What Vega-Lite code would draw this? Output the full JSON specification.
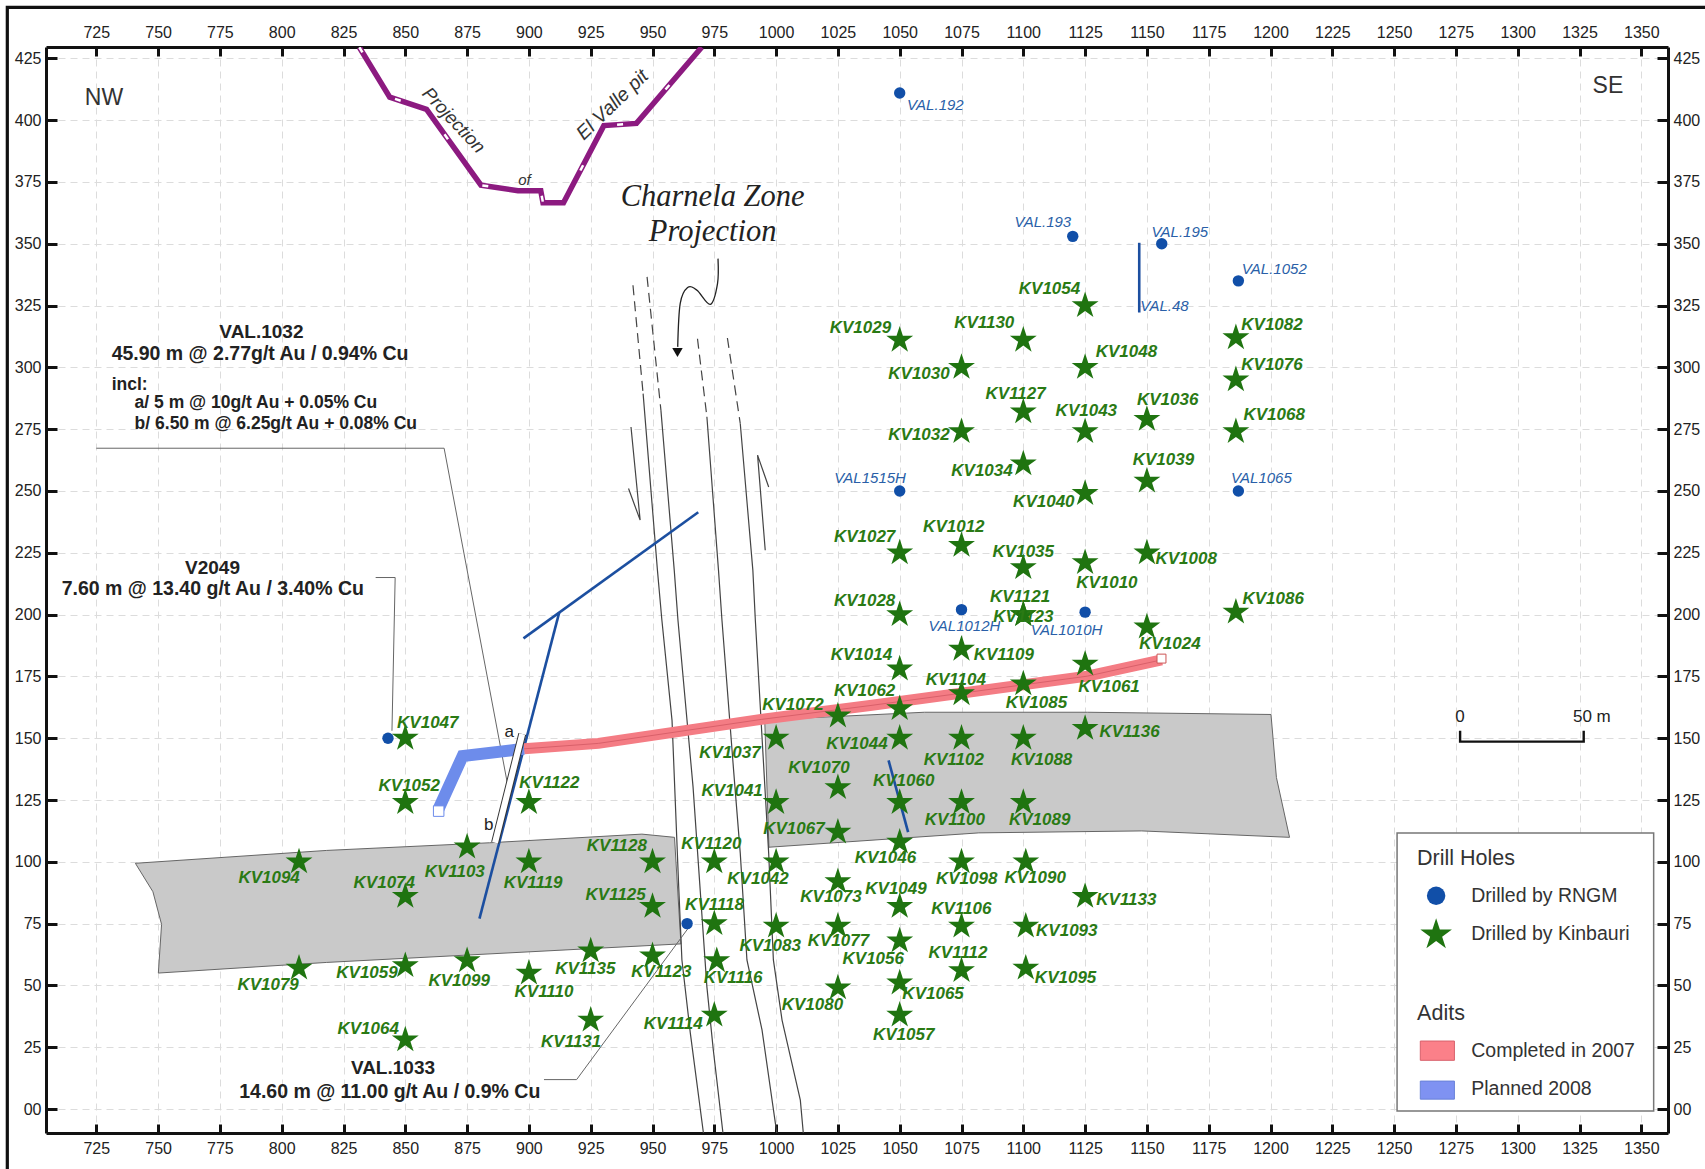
{
"$schema":"https://vega.github.io/schema/vega-lite/v6.json",
"autosize":"none","width":1622,"height":1086,
"padding":{"left":46,"top":47,"right":37,"bottom":36},
"background":"white",
"config":{"view":{"stroke":null},"font":"Liberation Sans"},
"datasets":{
"stars":[
{"n":"KV1047","x":850,"y":150,"lx":859.1,"ly":156},{"n":"KV1052","x":850,"y":124,"lx":851.6,"ly":130.6},{"n":"KV1122","x":900,"y":124,"lx":908.3,"ly":131.9},{"n":"KV1094","x":807,"y":100,"lx":794.9,"ly":93.6},{"n":"KV1074","x":850,"y":86,"lx":841.5,"ly":91.4},{"n":"KV1103","x":875,"y":106,"lx":870,"ly":95.8},{"n":"KV1119","x":900,"y":100,"lx":901.7,"ly":91.4},{"n":"KV1128","x":950,"y":100,"lx":935.6,"ly":106.4},{"n":"KV1125","x":950,"y":82,"lx":935.1,"ly":86.6},{"n":"KV1079","x":807,"y":57,"lx":794.5,"ly":50.1},{"n":"KV1059","x":850,"y":58,"lx":834.5,"ly":55},{"n":"KV1099","x":875,"y":60,"lx":871.8,"ly":51.9},{"n":"KV1110","x":900,"y":55,"lx":906.1,"ly":47.5},{"n":"KV1135","x":925,"y":64,"lx":922.8,"ly":56.7},{"n":"KV1123","x":950,"y":62,"lx":953.6,"ly":55.4},{"n":"KV1064","x":850,"y":28,"lx":835,"ly":32.5},{"n":"KV1131","x":925,"y":36,"lx":917.1,"ly":27.3},{"n":"KV1114","x":975,"y":38,"lx":958.4,"ly":34.3},{"n":"KV1116","x":976,"y":60,"lx":982.6,"ly":52.8},{"n":"KV1118","x":975,"y":75,"lx":975.1,"ly":82.6},{"n":"KV1120","x":975,"y":100,"lx":973.8,"ly":107.3},{"n":"KV1042","x":1000,"y":100,"lx":992.7,"ly":93.2},{"n":"KV1083","x":1000,"y":74,"lx":997.6,"ly":65.9},{"n":"KV1080","x":1025,"y":49,"lx":1014.7,"ly":42.2},{"n":"KV1077","x":1025,"y":74,"lx":1025.2,"ly":68.1},{"n":"KV1073","x":1025,"y":92,"lx":1022.2,"ly":85.7},{"n":"KV1046","x":1050,"y":108,"lx":1044.2,"ly":101.5},{"n":"KV1049","x":1050,"y":82,"lx":1048.5,"ly":88.8},{"n":"KV1056","x":1050,"y":68,"lx":1039.3,"ly":60.7},{"n":"KV1065","x":1050,"y":51,"lx":1063.5,"ly":46.6},{"n":"KV1057","x":1050,"y":38,"lx":1051.6,"ly":29.9},{"n":"KV1106","x":1075,"y":74,"lx":1074.9,"ly":80.9},{"n":"KV1112","x":1075,"y":56,"lx":1073.6,"ly":63.3},{"n":"KV1098","x":1075,"y":100,"lx":1077.1,"ly":93.2},{"n":"KV1090","x":1101,"y":100,"lx":1104.8,"ly":93.6},{"n":"KV1093","x":1101,"y":74,"lx":1117.6,"ly":72.1},{"n":"KV1095","x":1101,"y":57,"lx":1117.1,"ly":53.2},{"n":"KV1133","x":1125,"y":86,"lx":1141.7,"ly":84.4},{"n":"KV1067","x":1025,"y":112,"lx":1007.2,"ly":113.4},{"n":"KV1041","x":1000,"y":124,"lx":982.2,"ly":128.8},{"n":"KV1037","x":1000,"y":150,"lx":981.3,"ly":144.2},{"n":"KV1072","x":1025,"y":159,"lx":1006.8,"ly":163.5},{"n":"KV1062","x":1050,"y":162,"lx":1035.8,"ly":169.2},{"n":"KV1044","x":1050,"y":150,"lx":1032.7,"ly":147.7},{"n":"KV1070","x":1025,"y":130,"lx":1017.3,"ly":138},{"n":"KV1060","x":1050,"y":124,"lx":1051.6,"ly":132.8},{"n":"KV1100","x":1075,"y":124,"lx":1072.3,"ly":116.9},{"n":"KV1102","x":1075,"y":150,"lx":1071.9,"ly":141.1},{"n":"KV1104","x":1075,"y":168,"lx":1072.7,"ly":173.6},{"n":"KV1085","x":1100,"y":172,"lx":1105.3,"ly":164.4},{"n":"KV1088","x":1100,"y":150,"lx":1107.4,"ly":141.1},{"n":"KV1089","x":1100,"y":124,"lx":1106.6,"ly":116.9},{"n":"KV1136","x":1125,"y":154,"lx":1143,"ly":152.5},{"n":"KV1061","x":1125,"y":180,"lx":1134.7,"ly":170.6},{"n":"KV1024","x":1150,"y":195,"lx":1159.3,"ly":188.1},{"n":"KV1109","x":1075,"y":186,"lx":1092.1,"ly":183.8},{"n":"KV1014","x":1050,"y":178,"lx":1034.5,"ly":183.8},{"n":"KV1028","x":1050,"y":200,"lx":1035.8,"ly":205.3},{"n":"KV1027","x":1050,"y":225,"lx":1035.8,"ly":231.2},{"n":"KV1012","x":1075,"y":228,"lx":1071.9,"ly":235.6},{"n":"KV1035","x":1100,"y":219,"lx":1100,"ly":225.5},{"n":"KV1121","x":1100,"y":200,"lx":1098.7,"ly":207},{"n":"KV1123","x":1100,"y":200,"lx":1100,"ly":199},{"n":"KV1010","x":1125,"y":221,"lx":1133.8,"ly":212.8},{"n":"KV1008","x":1150,"y":225,"lx":1165.9,"ly":222.4},{"n":"KV1086","x":1186,"y":201,"lx":1201.1,"ly":206.2},{"n":"KV1040","x":1125,"y":249,"lx":1108.3,"ly":245.7},{"n":"KV1034","x":1100,"y":261,"lx":1083.3,"ly":258},{"n":"KV1039","x":1150,"y":254,"lx":1156.7,"ly":262.4},{"n":"KV1032","x":1075,"y":274,"lx":1057.8,"ly":272.5},{"n":"KV1043","x":1125,"y":274,"lx":1125.5,"ly":282.2},{"n":"KV1036","x":1150,"y":279,"lx":1158.4,"ly":287},{"n":"KV1068","x":1186,"y":274,"lx":1201.5,"ly":280.9},{"n":"KV1127","x":1100,"y":282,"lx":1096.9,"ly":289.3},{"n":"KV1030","x":1075,"y":300,"lx":1057.8,"ly":297.2},{"n":"KV1048","x":1125,"y":300,"lx":1141.7,"ly":306.4},{"n":"KV1076","x":1186,"y":295,"lx":1200.6,"ly":301.1},{"n":"KV1029","x":1050,"y":311,"lx":1034.1,"ly":316.1},{"n":"KV1130","x":1100,"y":311,"lx":1084.2,"ly":317.8},{"n":"KV1082","x":1186,"y":312,"lx":1200.6,"ly":317},{"n":"KV1054","x":1125,"y":325,"lx":1110.6,"ly":331.9}
],
"holes":[
{"n":"VAL.192","x":1050,"y":411,"lx":1064.4,"ly":406.2},{"n":"VAL.193","x":1120,"y":353,"lx":1107.9,"ly":358.7},{"n":"VAL.195","x":1156,"y":350,"lx":1163.3,"ly":354.8},{"n":"VAL.1052","x":1187,"y":335,"lx":1201.5,"ly":339.8},{"n":"VAL.48","lx":1157.1,"ly":324.9},{"n":"VAL1515H","x":1050,"y":250,"lx":1038,"ly":255.4},{"n":"VAL1065","x":1187,"y":250,"lx":1196.3,"ly":255.4},{"n":"VAL1012H","x":1075,"y":202,"lx":1076.2,"ly":195.2},{"n":"VAL1010H","x":1125,"y":201,"lx":1117.5,"ly":193.9},{"x":843,"y":150},{"x":964,"y":75}
],
"zones":[
{"z":"left","i":0,"x":740.8,"y":99.4},{"z":"left","i":1,"x":818.2,"y":104.6},{"z":"left","i":2,"x":884.1,"y":107.7},{"z":"left","i":3,"x":945.7,"y":111.2},{"z":"left","i":4,"x":958.9,"y":109.9},{"z":"left","i":5,"x":961.5,"y":66.8},{"z":"left","i":6,"x":818.2,"y":59.3},{"z":"left","i":7,"x":750.1,"y":55},{"z":"left","i":8,"x":751.4,"y":74.7},{"z":"left","i":9,"x":747.9,"y":87.9},{"z":"left","i":10,"x":740.8,"y":99.4},
{"z":"right","i":0,"x":995.4,"y":157.4},{"z":"right","i":1,"x":1060,"y":160.5},{"z":"right","i":2,"x":1125.9,"y":160.5},{"z":"right","i":3,"x":1200.2,"y":159.6},{"z":"right","i":4,"x":1202.4,"y":134.1},{"z":"right","i":5,"x":1207.7,"y":109.9},{"z":"right","i":6,"x":1147.9,"y":112.5},{"z":"right","i":7,"x":1082,"y":111.7},{"z":"right","i":8,"x":997.1,"y":105.9},{"z":"right","i":9,"x":995.4,"y":157.4}
],
"pit":[
{"i":0,"x":831.4,"y":429.5},{"i":1,"x":843.7,"y":409.3},{"i":2,"x":858.6,"y":404.4},{"i":3,"x":880.6,"y":373.7},{"i":4,"x":895.6,"y":371.5},{"i":5,"x":904.8,"y":371.5},{"i":6,"x":905.7,"y":366.6},{"i":7,"x":914,"y":366.6},{"i":8,"x":930.3,"y":397.8},{"i":9,"x":943.5,"y":398.7},{"i":10,"x":969.9,"y":429.5}
],
"red":[
{"i":0,"x":898,"y":145.7},{"i":1,"x":928.1,"y":147.9},{"i":2,"x":994,"y":157.6},{"i":3,"x":1038,"y":163.2},{"i":4,"x":1125.9,"y":175.1},{"i":5,"x":1156,"y":181.7}
],
"blue":[
{"i":0,"x":863.5,"y":121.5},{"i":1,"x":873.2,"y":142.8},{"i":2,"x":898,"y":145.7}
],
"drills":[
{"s":"a","i":0,"x":880,"y":77},{"s":"a","i":1,"x":912.3,"y":201},
{"s":"b","i":0,"x":897.8,"y":190.4},{"s":"b","i":1,"x":968.5,"y":241.4},
{"s":"c","i":0,"x":1146.9,"y":350.4},{"s":"c","i":1,"x":1146.9,"y":322.2},
{"s":"d","i":0,"x":1045.5,"y":141},{"s":"d","i":1,"x":1053.4,"y":112}
],
"faults":[
{"s":"1","i":0,"x":946.2,"y":289.4},{"s":"1","i":1,"x":949.8,"y":245},{"s":"1","i":2,"x":952,"y":217.9},{"s":"1","i":3,"x":953.8,"y":197.7},{"s":"1","i":4,"x":957.9,"y":157.2},{"s":"1","i":5,"x":960.6,"y":89.9},{"s":"1","i":6,"x":961.9,"y":60.3},{"s":"1","i":7,"x":965.3,"y":30.7},{"s":"1","i":8,"x":970.6,"y":-9.7},
{"s":"2","i":0,"x":953.4,"y":282.7},{"s":"2","i":1,"x":958.8,"y":217.9},{"s":"2","i":2,"x":960.3,"y":197.7},{"s":"2","i":3,"x":966.4,"y":130.3},{"s":"2","i":4,"x":972,"y":49.4},{"s":"2","i":5,"x":974.6,"y":23.9},{"s":"2","i":6,"x":978.5,"y":-9.7},
{"s":"3","i":0,"x":972,"y":280},{"s":"3","i":1,"x":976.7,"y":217.9},{"s":"3","i":2,"x":978.1,"y":197.7},{"s":"3","i":3,"x":982.8,"y":137.1},{"s":"3","i":4,"x":985.5,"y":103.5},{"s":"3","i":5,"x":988.2,"y":60.3},{"s":"3","i":6,"x":994.3,"y":32},{"s":"3","i":7,"x":999.7,"y":-5.7},{"s":"3","i":8,"x":1000.3,"y":-9.7},
{"s":"4","i":0,"x":985.5,"y":277.3},{"s":"4","i":1,"x":990.6,"y":217.9},{"s":"4","i":2,"x":991.6,"y":197.7},{"s":"4","i":3,"x":994.3,"y":150.5},{"s":"4","i":4,"x":997,"y":103.4},{"s":"4","i":5,"x":998.9,"y":60.3},{"s":"4","i":6,"x":1002.4,"y":36},{"s":"4","i":7,"x":1009.8,"y":3.6},{"s":"4","i":8,"x":1011,"y":-9.7},
{"s":"L","i":0,"x":941.3,"y":275.9},{"s":"L","i":1,"x":945,"y":238.2},{"s":"L","i":2,"x":940.3,"y":251},
{"s":"R","i":0,"x":995.6,"y":226},{"s":"R","i":1,"x":992.5,"y":264.5},{"s":"R","i":2,"x":997,"y":251.6}
],
"faultsDashed":[
{"s":"1","i":0,"x":942.1,"y":333.2},{"s":"1","i":1,"x":946.2,"y":289.4},
{"s":"2","i":0,"x":947.8,"y":336.6},{"s":"2","i":1,"x":953.4,"y":282.7},
{"s":"3","i":0,"x":968.2,"y":311.6},{"s":"3","i":1,"x":972,"y":280},
{"s":"4","i":0,"x":980.3,"y":311.9},{"s":"4","i":1,"x":985.5,"y":277.3}
],
"curve":[
{"i":0,"x":976.5,"y":344},{"i":1,"x":976.3,"y":333.9},{"i":2,"x":973.4,"y":325.5},{"i":3,"x":968,"y":331.2},{"i":4,"x":964.2,"y":332.3},{"i":5,"x":961.2,"y":325.8},{"i":6,"x":960.2,"y":308.3}
],
"leaders":[
{"s":"v1032","i":0,"x":725,"y":267.3},{"s":"v1032","i":1,"x":865.7,"y":267.3},{"s":"v1032","i":2,"x":891.6,"y":130.1},
{"s":"v2049","i":0,"x":838,"y":215},{"s":"v2049","i":1,"x":845.9,"y":215},{"s":"v2049","i":2,"x":844.6,"y":153},
{"s":"v1033","i":0,"x":906.1,"y":11.9},{"s":"v1033","i":1,"x":919.3,"y":11.9},{"s":"v1033","i":2,"x":965,"y":73.9}
],
"frame":[{"i":0,"x":689,"y":-24.3},{"i":1,"x":689,"y":445.6},{"i":2,"x":1376,"y":445.6}],
"scalebar":[
{"i":0,"x":1276.7,"y":153},{"i":1,"x":1276.7,"y":148.6},{"i":2,"x":1326.7,"y":148.6},{"i":3,"x":1326.7,"y":153}
],
"ticksX":[{"x":725}]
},
"layer":[
{"data":{"name":"ticksX"},"mark":{"type":"rule","opacity":0},
 "encoding":{
 "x":{"field":"x","type":"quantitative","scale":{"domain":[704.65,1360.8],"nice":false,"zero":false},
  "axis":{"orient":"bottom","title":null,"values":[725,750,775,800,825,850,875,900,925,950,975,1000,1025,1050,1075,1100,1125,1150,1175,1200,1225,1250,1275,1300,1325,1350],"format":"d","grid":true,"gridColor":"#dcdcdc","gridDash":[7,5],"gridWidth":1,"domainColor":"#111","domainWidth":3,"tickColor":"#111","tickWidth":3,"tickSize":-9,"labelPadding":16,"labelFontSize":16,"labelColor":"#222","labelFont":"Liberation Sans","zindex":0}},
 "y":{"datum":0,"type":"quantitative","scale":{"domain":[-9.7,429.6],"nice":false,"zero":false},
  "axis":{"orient":"left","title":null,"values":[0,25,50,75,100,125,150,175,200,225,250,275,300,325,350,375,400,425],"labelExpr":"datum.value==0?'00':datum.label","grid":true,"gridColor":"#dcdcdc","gridDash":[7,5],"gridWidth":1,"domainColor":"#111","domainWidth":3,"tickColor":"#111","tickWidth":3,"tickSize":-11,"labelPadding":16,"labelFontSize":16,"labelColor":"#222","labelFont":"Liberation Sans","zindex":0}}
 }},
{"data":{"name":"ticksX"},"mark":{"type":"rule","opacity":0},
 "encoding":{
 "x":{"field":"x","type":"quantitative",
  "axis":{"orient":"top","title":null,"values":[725,750,775,800,825,850,875,900,925,950,975,1000,1025,1050,1075,1100,1125,1150,1175,1200,1225,1250,1275,1300,1325,1350],"format":"d","grid":false,"domainColor":"#111","domainWidth":3,"tickColor":"#111","tickWidth":3,"tickSize":-9,"labelPadding":16,"labelFontSize":16,"labelColor":"#222","labelFont":"Liberation Sans"}},
 "y":{"datum":0,"type":"quantitative",
  "axis":{"orient":"right","title":null,"values":[0,25,50,75,100,125,150,175,200,225,250,275,300,325,350,375,400,425],"labelExpr":"datum.value==0?'00':datum.label","grid":false,"domainColor":"#111","domainWidth":3,"tickColor":"#111","tickWidth":3,"tickSize":-11,"labelPadding":16,"labelFontSize":16,"labelColor":"#222","labelFont":"Liberation Sans"}}
 }},
{"data":{"name":"frame"},"mark":{"type":"line","stroke":"#111","strokeWidth":3.2},
 "encoding":{"x":{"field":"x","type":"quantitative","axis":null},"y":{"field":"y","type":"quantitative","axis":null},"order":{"field":"i"}}},
{"data":{"name":"zones"},"mark":{"type":"line","fill":"#c9c9c9","stroke":"#666","strokeWidth":1},
 "encoding":{"x":{"field":"x","type":"quantitative","axis":null},"y":{"field":"y","type":"quantitative","axis":null},"detail":{"field":"z"},"order":{"field":"i"}}},
{"data":{"name":"faults"},"mark":{"type":"line","stroke":"#444","strokeWidth":1.2,"clip":true},
 "encoding":{"x":{"field":"x","type":"quantitative","axis":null},"y":{"field":"y","type":"quantitative","axis":null},"detail":{"field":"s"},"order":{"field":"i"}}},
{"data":{"name":"faultsDashed"},"mark":{"type":"line","stroke":"#444","strokeWidth":1.2,"strokeDash":[10,6]},
 "encoding":{"x":{"field":"x","type":"quantitative","axis":null},"y":{"field":"y","type":"quantitative","axis":null},"detail":{"field":"s"},"order":{"field":"i"}}},
{"data":{"name":"leaders"},"mark":{"type":"line","stroke":"#666","strokeWidth":1},
 "encoding":{"x":{"field":"x","type":"quantitative","axis":null},"y":{"field":"y","type":"quantitative","axis":null},"detail":{"field":"s"},"order":{"field":"i"}}},
{"data":{"name":"curve"},"mark":{"type":"line","stroke":"#222","strokeWidth":1.3,"interpolate":"cardinal"},
 "encoding":{"x":{"field":"x","type":"quantitative","axis":null},"y":{"field":"y","type":"quantitative","axis":null},"order":{"field":"i"}}},
{"data":{"values":[{"x":960.1,"y":306}]},"mark":{"type":"point","shape":"triangle-down","filled":true,"color":"#111","size":110,"opacity":1},
 "encoding":{"x":{"field":"x","type":"quantitative","axis":null},"y":{"field":"y","type":"quantitative","axis":null}}},
{"data":{"name":"pit"},"mark":{"type":"line","stroke":"#8c1a80","strokeWidth":5.5,"clip":true},
 "encoding":{"x":{"field":"x","type":"quantitative","axis":null},"y":{"field":"y","type":"quantitative","axis":null},"order":{"field":"i"}}},
{"data":{"name":"pit"},"mark":{"type":"line","stroke":"#ffffff","strokeWidth":2.5,"strokeDash":[6,58],"clip":true},
 "encoding":{"x":{"field":"x","type":"quantitative","axis":null},"y":{"field":"y","type":"quantitative","axis":null},"order":{"field":"i"}}},
{"data":{"name":"drills"},"mark":{"type":"line","stroke":"#1c4fa0","strokeWidth":2.6},
 "encoding":{"x":{"field":"x","type":"quantitative","axis":null},"y":{"field":"y","type":"quantitative","axis":null},"detail":{"field":"s"},"order":{"field":"i"}}},
{"data":{"name":"red"},"mark":{"type":"line","stroke":"#f47c84","strokeWidth":11},
 "encoding":{"x":{"field":"x","type":"quantitative","axis":null},"y":{"field":"y","type":"quantitative","axis":null},"order":{"field":"i"}}},
{"data":{"name":"red"},"mark":{"type":"line","stroke":"#d9606a","strokeWidth":1},
 "encoding":{"x":{"field":"x","type":"quantitative","axis":null},"y":{"field":"y","type":"quantitative","axis":null},"order":{"field":"i"}}},
{"data":{"name":"blue"},"mark":{"type":"line","stroke":"#6d8ceb","strokeWidth":12,"strokeJoin":"miter"},
 "encoding":{"x":{"field":"x","type":"quantitative","axis":null},"y":{"field":"y","type":"quantitative","axis":null},"order":{"field":"i"}}},
{"data":{"values":[{"x":1155.9,"y":182.2}]},"mark":{"type":"point","shape":"square","filled":true,"fill":"white","stroke":"#c55","strokeWidth":1,"size":80,"opacity":1},
 "encoding":{"x":{"field":"x","type":"quantitative","axis":null},"y":{"field":"y","type":"quantitative","axis":null}}},
{"data":{"values":[{"x":863.5,"y":120.5}]},"mark":{"type":"point","shape":"square","filled":true,"fill":"white","stroke":"#6d8ceb","strokeWidth":1,"size":110,"opacity":1},
 "encoding":{"x":{"field":"x","type":"quantitative","axis":null},"y":{"field":"y","type":"quantitative","axis":null}}},
{"data":{"values":[{"i":0,"x":897.3,"y":151.7},{"i":1,"x":886.3,"y":107.7}]},"mark":{"type":"line","stroke":"#333","strokeWidth":8},
 "encoding":{"x":{"field":"x","type":"quantitative","axis":null},"y":{"field":"y","type":"quantitative","axis":null},"order":{"field":"i"}}},
{"data":{"values":[{"i":0,"x":897.3,"y":151.7},{"i":1,"x":886.3,"y":107.7}]},"mark":{"type":"line","stroke":"#fff","strokeWidth":6},
 "encoding":{"x":{"field":"x","type":"quantitative","axis":null},"y":{"field":"y","type":"quantitative","axis":null},"order":{"field":"i"}}},
{"data":{"name":"holes"},"transform":[{"filter":"isValid(datum.x)"}],"mark":{"type":"point","shape":"circle","filled":true,"color":"#114fa8","size":130,"opacity":1},
 "encoding":{"x":{"field":"x","type":"quantitative","axis":null},"y":{"field":"y","type":"quantitative","axis":null}}},
{"data":{"name":"stars"},"mark":{"type":"point","filled":true,"color":"#1f7410","opacity":1,"size":800,"shape":"M0,-1L0.2245,-0.309L0.951,-0.309L0.363,0.118L0.588,0.809L0,0.382L-0.588,0.809L-0.363,0.118L-0.951,-0.309L-0.2245,-0.309Z"},
 "encoding":{"x":{"field":"x","type":"quantitative","axis":null},"y":{"field":"y","type":"quantitative","axis":null}}},
{"data":{"name":"stars"},"mark":{"type":"text","color":"#2a7a14","fontSize":17,"fontStyle":"italic","fontWeight":"bold","font":"Liberation Sans"},
 "encoding":{"x":{"field":"lx","type":"quantitative","axis":null},"y":{"field":"ly","type":"quantitative","axis":null},"text":{"field":"n"}}},
{"data":{"name":"holes"},"transform":[{"filter":"isValid(datum.n)"}],"mark":{"type":"text","color":"#2a5fa8","fontSize":15,"fontStyle":"italic","font":"Liberation Sans"},
 "encoding":{"x":{"field":"lx","type":"quantitative","axis":null},"y":{"field":"ly","type":"quantitative","axis":null},"text":{"field":"n"}}},
{"data":{"values":[{"t":"VAL.1032","x":791.8,"y":314.5},{"t":"V2049","x":772,"y":219},{"t":"VAL.1033","x":845,"y":16.5}]},"mark":{"type":"text","color":"#222","fontSize":19,"font":"Liberation Sans","fontWeight":"bold","align":"center"},
 "encoding":{"x":{"field":"x","type":"quantitative","axis":null},"y":{"field":"y","type":"quantitative","axis":null},"text":{"field":"t"}}},
{"data":{"values":[{"t":"45.90 m @ 2.77g/t Au / 0.94% Cu","x":731.2,"y":305.3},{"t":"7.60 m @ 13.40 g/t Au / 3.40% Cu","x":711,"y":210.5},{"t":"14.60 m @ 11.00 g/t Au / 0.9% Cu","x":782.8,"y":7}]},"mark":{"type":"text","color":"#222","fontSize":19.5,"font":"Liberation Sans","fontWeight":"bold","align":"left"},
 "encoding":{"x":{"field":"x","type":"quantitative","axis":null},"y":{"field":"y","type":"quantitative","axis":null},"text":{"field":"t"}}},
{"data":{"values":[{"t":"incl:","x":731.2,"y":293},{"t":"a/ 5 m @ 10g/t Au + 0.05% Cu","x":740.5,"y":285.5},{"t":"b/ 6.50 m @ 6.25g/t Au + 0.08% Cu","x":740.5,"y":277}]},"mark":{"type":"text","color":"#222","fontSize":17.5,"font":"Liberation Sans","fontWeight":"bold","align":"left"},
 "encoding":{"x":{"field":"x","type":"quantitative","axis":null},"y":{"field":"y","type":"quantitative","axis":null},"text":{"field":"t"}}},
{"data":{"values":[{"t":"a","x":892,"y":152.5},{"t":"b","x":883.7,"y":114.7},{"t":"0","x":1276.7,"y":158.7},{"t":"50 m","x":1330,"y":158.7}]},"mark":{"type":"text","color":"#222","fontSize":17,"font":"Liberation Sans"},
 "encoding":{"x":{"field":"x","type":"quantitative","axis":null},"y":{"field":"y","type":"quantitative","axis":null},"text":{"field":"t"}}},
{"data":{"values":[{"t":"NW","x":728.1,"y":408.8},{"t":"SE","x":1336.5,"y":414}]},"mark":{"type":"text","color":"#333","fontSize":23,"font":"Liberation Sans"},
 "encoding":{"x":{"field":"x","type":"quantitative","axis":null},"y":{"field":"y","type":"quantitative","axis":null},"text":{"field":"t"}}},
{"data":{"values":[{"t":"Charnela Zone","x":974.3,"y":368.8},{"t":"Projection","x":974.3,"y":354.8}]},"mark":{"type":"text","color":"#222","fontSize":30.5,"font":"Liberation Serif","fontStyle":"italic"},
 "encoding":{"x":{"field":"x","type":"quantitative","axis":null},"y":{"field":"y","type":"quantitative","axis":null},"text":{"field":"t"}}},
{"data":{"values":[{"t":"Projection","x":869.6,"y":400}]},"mark":{"type":"text","color":"#333","fontSize":18.5,"fontStyle":"italic","angle":47},
 "encoding":{"x":{"field":"x","type":"quantitative","axis":null},"y":{"field":"y","type":"quantitative","axis":null},"text":{"field":"t"}}},
{"data":{"values":[{"t":"El Valle pit","x":933.8,"y":406.2}]},"mark":{"type":"text","color":"#333","fontSize":19.5,"fontStyle":"italic","angle":-44},
 "encoding":{"x":{"field":"x","type":"quantitative","axis":null},"y":{"field":"y","type":"quantitative","axis":null},"text":{"field":"t"}}},
{"data":{"values":[{"t":"of","x":898.2,"y":375.8}]},"mark":{"type":"text","color":"#333","fontSize":15,"fontStyle":"italic"},
 "encoding":{"x":{"field":"x","type":"quantitative","axis":null},"y":{"field":"y","type":"quantitative","axis":null},"text":{"field":"t"}}},
{"data":{"name":"scalebar"},"mark":{"type":"line","stroke":"#111","strokeWidth":2.4},
 "encoding":{"x":{"field":"x","type":"quantitative","axis":null},"y":{"field":"y","type":"quantitative","axis":null},"order":{"field":"i"}}},
{"data":{"values":[{"x":1251.2,"x2":1355,"y":-0.8,"y2":111.7}]},"mark":{"type":"rect","fill":"white","stroke":"#777","strokeWidth":1.5},
 "encoding":{"x":{"field":"x","type":"quantitative","axis":null},"x2":{"field":"x2"},"y":{"field":"y","type":"quantitative","axis":null},"y2":{"field":"y2"}}},
{"data":{"values":[{"x":1260.6,"x2":1274.4,"y":19.7,"y2":27.5,"c":"Completed in 2007"},{"x":1260.6,"x2":1274.4,"y":4,"y2":11.3,"c":"Planned 2008"}]},"mark":{"type":"rect","strokeWidth":1},
 "encoding":{"x":{"field":"x","type":"quantitative","axis":null},"x2":{"field":"x2"},"y":{"field":"y","type":"quantitative","axis":null},"y2":{"field":"y2"},
  "fill":{"field":"c","type":"nominal","legend":null,"scale":{"domain":["Completed in 2007","Planned 2008"],"range":["#fb8089","#7f92f2"]}},
  "stroke":{"field":"c","type":"nominal","legend":null,"scale":{"domain":["Completed in 2007","Planned 2008"],"range":["#d8616b","#6a82d8"]}}}},
{"data":{"values":[{"x":1267,"y":86.3}]},"mark":{"type":"point","shape":"circle","filled":true,"color":"#114fa8","size":340,"opacity":1},
 "encoding":{"x":{"field":"x","type":"quantitative","axis":null},"y":{"field":"y","type":"quantitative","axis":null}}},
{"data":{"values":[{"x":1267,"y":70.5}]},"mark":{"type":"point","filled":true,"color":"#1f7410","opacity":1,"size":1100,"shape":"M0,-1L0.2245,-0.309L0.951,-0.309L0.363,0.118L0.588,0.809L0,0.382L-0.588,0.809L-0.363,0.118L-0.951,-0.309L-0.2245,-0.309Z"},
 "encoding":{"x":{"field":"x","type":"quantitative","axis":null},"y":{"field":"y","type":"quantitative","axis":null}}},
{"data":{"values":[{"t":"Drill Holes","x":1259.3,"y":101},{"t":"Adits","x":1259.3,"y":38.4}]},"mark":{"type":"text","color":"#333","fontSize":21.5,"align":"left"},
 "encoding":{"x":{"field":"x","type":"quantitative","axis":null},"y":{"field":"y","type":"quantitative","axis":null},"text":{"field":"t"}}},
{"data":{"values":[{"t":"Drilled by RNGM","x":1281.2,"y":86.3},{"t":"Drilled by Kinbauri","x":1281.2,"y":70.8},{"t":"Completed in 2007","x":1281.2,"y":23.4},{"t":"Planned 2008","x":1281.2,"y":8}]},"mark":{"type":"text","color":"#333","fontSize":19.5,"align":"left"},
 "encoding":{"x":{"field":"x","type":"quantitative","axis":null},"y":{"field":"y","type":"quantitative","axis":null},"text":{"field":"t"}}}
],
"resolve":{"axis":{"x":"independent","y":"independent"}}
}
